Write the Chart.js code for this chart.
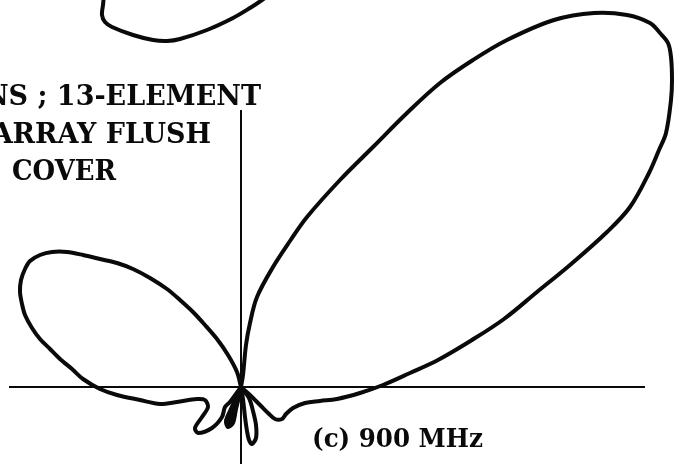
<!DOCTYPE html>
<html>
<head>
<meta charset="utf-8">
<script src="https://cdn.jsdelivr.net/npm/chart.js@4/dist/chart.umd.min.js"></script>
<style>
  html, body { margin: 0; padding: 0; background: #fff; }
  #pattern { display: block; }
</style>
</head>
<body>
<canvas id="pattern" width="674" height="464"></canvas>
<script>
// pattern traced as [x, y] offsets from the axis crossing, y up (relative field units)
const mainLobe = [
  [0, 0], [2, 12], [5, 42], [9, 64], [16, 90], [32, 120], [49, 146], [66, 170],
  [99, 207], [132, 240], [166, 274], [199, 304], [232, 327], [266, 347], [313, 367],
  [353, 374], [386, 372], [409, 364], [419, 354], [427, 344], [430, 330], [431, 307],
  [430, 287], [425, 254], [418, 237], [408, 214], [389, 180], [366, 155], [329, 122],
  [296, 95], [263, 68], [231, 47], [197, 27], [169, 14], [142, 2], [119, -6],
  [96, -12], [79, -14], [64, -16], [52, -21], [45, -27], [41, -32], [34, -32],
  [27, -26], [21, -20], [15, -14], [9, -8], [0, 0],
];
const downLobe = [
  [0, 0], [2, -12], [4, -30], [6, -44], [8, -53], [11, -57], [15, -51], [15, -38], [12, -24], [8, -11], [0, 0],
];
const narrowLobe = [
  [0, 0], [-6, -13], [-11, -24], [-15, -34], [-13, -40], [-8, -36], [-5, -22], [-2, -10], [0, 0],
];
const leftLobe = [
  [0, 0], [-11, -15], [-16, -20], [-19, -30], [-29, -41], [-43, -46], [-46, -41],
  [-39, -30], [-33, -20], [-36, -13], [-44, -12], [-64, -15], [-81, -17], [-101, -13],
  [-124, -8], [-141, -2], [-158, 8], [-169, 18], [-181, 28], [-191, 38], [-201, 48],
  [-209, 59], [-216, 72], [-219, 83], [-221, 95], [-220, 107], [-216, 118], [-211, 126],
  [-201, 132], [-189, 135], [-174, 135], [-158, 132], [-141, 128], [-124, 124],
  [-108, 118], [-91, 109], [-74, 98], [-61, 87], [-48, 75], [-36, 62], [-24, 48],
  [-13, 32], [-4, 15], [0, 0],
];
const upperLobe = [
  [-137, 392], [-138, 382], [-139, 372], [-136, 365], [-129, 360], [-108, 352],
  [-88, 347], [-74, 346], [-61, 348], [-34, 357], [-8, 369], [9, 379], [21, 387], [29, 393],
];
const xAxisExtent = [-232, 404];
const yAxisExtent = [-77, 277];
const titleLines = ['NS ; 13-ELEMENT', 'ARRAY FLUSH', 'COVER'];
const panelLabel = '(c) 900 MHz';

const toPoints = (pairs) => pairs.map(([x, y]) => ({ x, y }));

const INK = '#0a0a0a';

function lobe(pairs, extra) {
  return Object.assign({
    data: toPoints(pairs),
    showLine: true,
    borderColor: INK,
    backgroundColor: INK,
    borderWidth: 4,
    pointRadius: 0,
    tension: 0.35,
    fill: false,
    borderJoinStyle: 'round',
    borderCapStyle: 'round',
  }, extra || {});
}

function axisLine(points) {
  return {
    data: points,
    showLine: true,
    borderColor: INK,
    borderWidth: 2,
    pointRadius: 0,
    tension: 0,
    fill: false,
  };
}

const labelsPlugin = {
  id: 'labels',
  afterDatasetsDraw(chart) {
    const ctx = chart.ctx;
    ctx.save();
    ctx.fillStyle = INK;
    ctx.textBaseline = 'alphabetic';
    ctx.font = 'bold 27px "DejaVu Serif", serif';
    ctx.textAlign = 'right';
    ctx.fillText(titleLines[0], 261, 105);
    ctx.fillText(titleLines[1], 211, 143);
    ctx.textAlign = 'left';
    ctx.fillText(titleLines[2], 12, 180, 104);
    ctx.font = 'bold 26px "DejaVu Serif", serif';
    ctx.fillText(panelLabel, 312, 447, 171);
    ctx.restore();
  },
};

new Chart(document.getElementById('pattern').getContext('2d'), {
  type: 'scatter',
  data: {
    datasets: [
      axisLine([{ x: xAxisExtent[0], y: 0 }, { x: xAxisExtent[1], y: 0 }]),
      axisLine([{ x: 0, y: yAxisExtent[0] }, { x: 0, y: yAxisExtent[1] }]),
      lobe(mainLobe),
      lobe(leftLobe, { tension: 0.3 }),
      lobe(downLobe, { tension: 0.3 }),
      lobe(narrowLobe, { tension: 0.3, fill: 'shape' }),
      lobe(upperLobe),
    ],
  },
  options: {
    responsive: false,
    animation: false,
    layout: { padding: 0 },
    plugins: { legend: { display: false }, tooltip: { enabled: false } },
    scales: {
      x: { type: 'linear', min: -241, max: 433, display: false },
      y: { type: 'linear', min: -77, max: 387, display: false },
    },
  },
  plugins: [labelsPlugin],
});
</script>
</body>
</html>
